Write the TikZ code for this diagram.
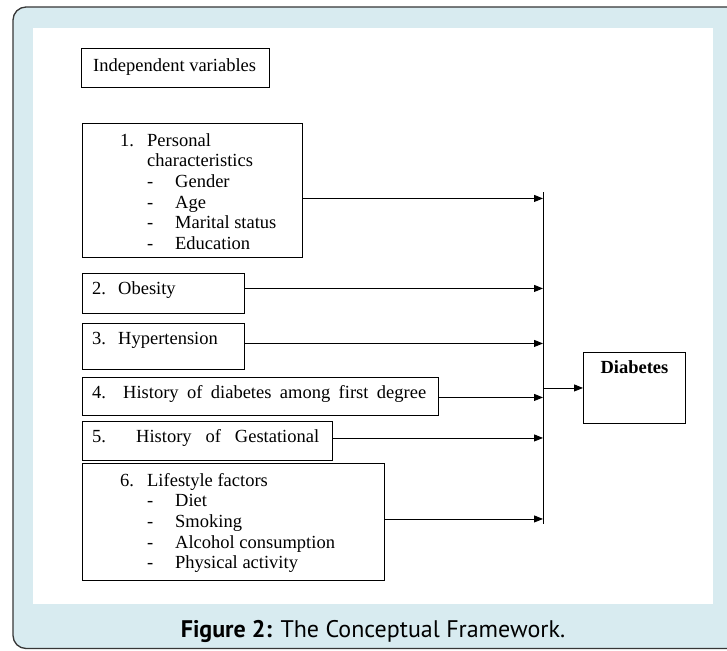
\documentclass[tikz,border=0pt]{standalone}
\usepackage{fontspec}
\setmainfont{Liberation Serif}
\newfontfamily\capfont{PT Sans}
\usetikzlibrary{arrows.meta,positioning,calc}
\definecolor{panelblue}{RGB}{216,235,240}
\definecolor{framegray}{RGB}{55,55,55}

\begin{document}
\begin{tikzpicture}[x=1pt,y=-1pt,
    box/.style={draw,line width=0.9pt,anchor=north west,inner sep=0pt},
    txt/.style={inner sep=0pt,font=\fontsize{18.5}{20.7}\selectfont},
    arr/.style={line width=0.9pt,-{Triangle[length=9pt,width=7pt]}}]
  \useasboundingbox (0,0) rectangle (727,650);
  \clip (0,0) rectangle (727,650);
  \draw[fill=panelblue,draw=framegray,line width=1.3pt,rounded corners=13pt] (13,7) rectangle (760,648.5);
  \fill[white] (33,28) rectangle (713,604);

  % boxes
  \node[box,minimum width=188pt,minimum height=39pt] (iv) at (81,48) {};
  \node[box,minimum width=220pt,minimum height=134pt] (pc) at (82,123) {};
  \node[box,minimum width=162pt,minimum height=40pt] (ob) at (82,273) {};
  \node[box,minimum width=162pt,minimum height=46pt] (ht) at (82,323) {};
  \node[box,minimum width=356pt,minimum height=38pt] (hist) at (82,377) {};
  \node[box,minimum width=250pt,minimum height=39pt] (gest) at (82,421) {};
  \node[box,minimum width=302pt,minimum height=117pt] (life) at (82,463) {};
  \node[box,minimum width=102pt,minimum height=71pt] (dia) at (583,352) {};

  % texts
  \node[txt,anchor=base west] (ivtxt) at ($(iv.north west)+(12,24)$) {Independent variables};
  \node[txt,anchor=north west] (pctxt) at ($(pc.north west)+(38,8.5)$) {%
    \begin{tabular}{@{}p{27pt}@{}p{28pt}@{}l@{}}
      1. & \multicolumn{2}{@{}l@{}}{Personal}\\
         & \multicolumn{2}{@{}l@{}}{characteristics}\\
         & - & Gender\\
         & - & Age\\
         & - & Marital status\\
         & - & Education
    \end{tabular}};
  \node[txt,anchor=base west] (obtxt) at ($(ob.north west)+(10,21)$) {\makebox[26pt][l]{2.}Obesity};
  \node[txt,anchor=base west] (httxt) at ($(ht.north west)+(10,21)$) {\makebox[26pt][l]{3.}Hypertension};
  \node[txt,anchor=base west] (histtxt) at ($(hist.north west)+(10,21)$) {\makebox[31pt][l]{4.}\makebox[303pt][s]{History of diabetes among first degree}};
  \node[txt,anchor=base west] (gesttxt) at ($(gest.north west)+(10,21)$) {\makebox[44pt][l]{5.}\makebox[183pt][s]{History of Gestational}};
  \node[txt,anchor=north west] (lifetxt) at ($(life.north west)+(38,8.5)$) {%
    \begin{tabular}{@{}p{27pt}@{}p{28pt}@{}l@{}}
      6. & \multicolumn{2}{@{}l@{}}{Lifestyle factors}\\
         & - & Diet\\
         & - & Smoking\\
         & - & Alcohol consumption\\
         & - & Physical activity
    \end{tabular}};
  \node[txt,anchor=base] (diatxt) at ($(dia.north)+(0,21)$) {\textbf{Diabetes}};

  % connectors
  \coordinate (bustop) at (543,192);
  \coordinate (busbot) at (543,524);
  \draw[line width=0.9pt] (bustop) -- (busbot);
  \foreach \b/\s in {pc/-8,ob/5,ht/3,hist/-1,gest/3,life/3}
    \draw[arr] ([yshift=\s pt]\b.east) coordinate (s\b) -- (bustop |- s\b);
  \draw[arr] (bustop |- dia.west) -- (dia.west);

  % caption
  \node[anchor=base,inner sep=0pt,font=\capfont\fontsize{24}{29}\selectfont] (cap) at (373,637)
    {\textbf{Figure 2:} The Conceptual Framework.};
\end{tikzpicture}
\end{document}
